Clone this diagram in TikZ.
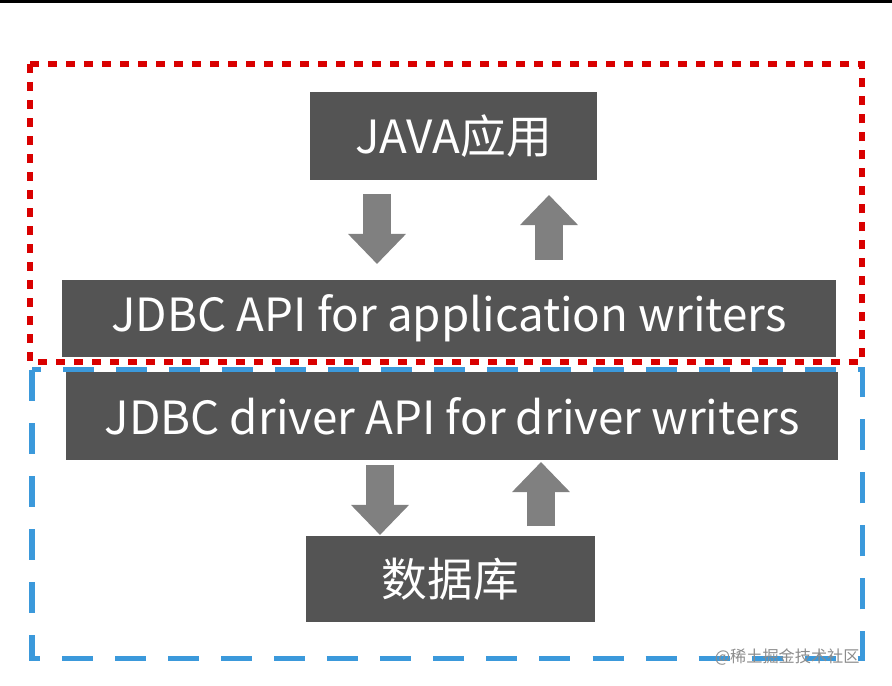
\documentclass[tikz,border=0pt]{standalone}
\usepackage{fontspec}
\setmainfont{Noto Sans CJK SC}
\usetikzlibrary{arrows.meta}

\tikzset{
  box/.style = {fill=black!67, text=white, inner sep=0pt, font=\fontsize{13}{15}\selectfont},
  flow/.style = {draw=black!50, line width=0.28cm, -{Triangle[width=0.56cm,length=0.3cm]}},
}

\begin{document}
\begin{tikzpicture}[x=0.01cm, y=-0.01cm]
\useasboundingbox (0,0) rectangle (892,686);
\fill[white] (0,0) rectangle (892,686);
\fill[black] (0,0) rectangle (892,3);

%boxes
\node[box, minimum width=2.87cm, minimum height=0.88cm] (java) at (453.5,136) {JAVA应用};
\node[box, minimum width=7.74cm, minimum height=0.77cm] (app) at (449,318.5) {JDBC API for application writers};
\node[box, minimum width=7.72cm, minimum height=0.88cm] (drv) at (452,416) {JDBC driver API for driver writers};
\node[box, minimum width=2.89cm, minimum height=0.86cm] (db) at (450.5,579) {数据库};

%frames
\draw[red!85!black, line width=0.06cm, dash pattern=on 0.09cm off 0.09cm] (30,64) rectangle (862,362);
\draw[cyan!70!blue!80, line width=0.05cm, dash pattern=on 0.31cm off 0.22cm] (32,370) rectangle (862,658);

%arrows
\coordinate (j1) at (377,194); \coordinate (a1) at (377,264);
\coordinate (a2) at (549,260); \coordinate (j2) at (549,195);
\coordinate (d1) at (380,465); \coordinate (b1) at (380,535);
\coordinate (b2) at (541,526); \coordinate (d2) at (541,462);
\draw[flow] (j1) -- (a1);
\draw[flow] (a2) -- (j2);
\draw[flow] (d1) -- (b1);
\draw[flow] (b2) -- (d2);

\node[text=black!45, font=\fontsize{4.6}{5}\selectfont, anchor=east] (wm) at (872,657) {@稀土掘金技术社区};
\end{tikzpicture}
\end{document}
